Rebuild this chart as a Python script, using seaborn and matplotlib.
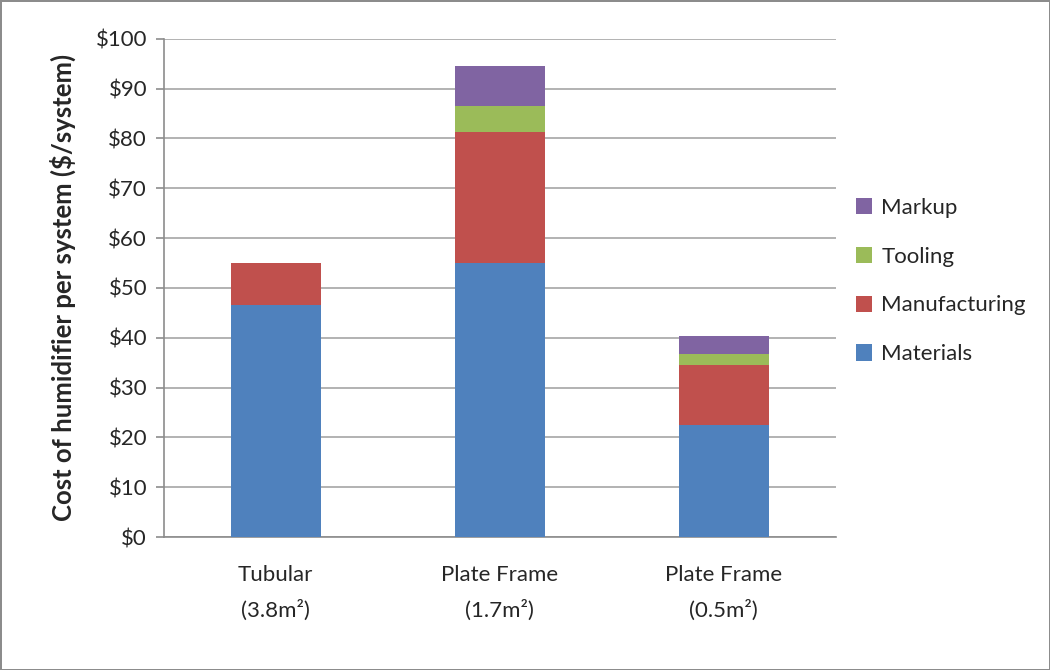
import numpy as np
import pandas as pd
import matplotlib
matplotlib.use("Agg")
import matplotlib.pyplot as plt
import seaborn as sns

# values ($ per system)
categories = ["Tubular\n(3.8m²)", "Plate Frame\n(1.7m²)", "Plate Frame\n(0.5m²)"]
materials = [46.6, 55.0, 22.5]
manufacturing = [8.4, 26.4, 12.0]
tooling = [0.0, 5.1, 2.3]
markup = [0.0, 8.1, 3.6]

series = ["Materials", "Manufacturing", "Tooling", "Markup"]
colors = ["#4F81BD", "#C0504D", "#9BBB59", "#8064A2"]

sns.set_style("white")
plt.rcParams["font.family"] = ["Lato", "DejaVu Sans"]

dtf = pd.DataFrame({"Category": categories, "Materials": materials,
                    "Manufacturing": manufacturing, "Tooling": tooling,
                    "Markup": markup})

fig = plt.figure(figsize=(10.5, 6.7), dpi=100)
fig.patch.set_edgecolor("#8C8C8C")
fig.patch.set_linewidth(2)
ax = fig.add_axes([0.156, 0.1985, 0.640, 0.7435])

# stacked bars, one layer at a time
bottom = np.zeros(len(categories))
for name, col in zip(series, colors):
    sns.barplot(data=dtf, x="Category", y=name, color=col, width=0.4,
                saturation=1, bottom=bottom, linewidth=0, label=name,
                ax=ax, zorder=3)
    bottom = bottom + dtf[name].values

ax.set_ylim(0, 100)
ax.set_xlim(-0.5, 2.5)
ax.set_yticks(range(0, 101, 10))
ax.set_yticklabels(["${}".format(v) for v in range(0, 101, 10)], fontsize=16)
ax.grid(axis="y", color="#A6A6A6", linewidth=1.2, zorder=0)
ax.set_axisbelow(True)

ax.set_xlabel("")
ax.set_ylabel("Cost of humidifier per system ($/system)", fontsize=18.5,
              fontweight="bold", labelpad=14)
ax.tick_params(axis="x", which="major", length=0, labelsize=16, pad=20)
ax.set_xticks([-0.5, 0.5, 1.5, 2.5], minor=True)
ax.tick_params(axis="x", which="minor", length=7, color="#8C8C8C", width=1.2)
ax.tick_params(axis="y", length=6, color="#8C8C8C", width=1.2, left=True, pad=6)
for lab in ax.get_xticklabels():
    lab.set_linespacing(1.9)

sns.despine(ax=ax, top=True, right=True)
for s in ["left", "bottom"]:
    ax.spines[s].set_color("#8C8C8C")
    ax.spines[s].set_linewidth(1.2)

handles, labels = ax.get_legend_handles_labels()
ax.legend(handles[::-1], labels[::-1], loc="center left",
          bbox_to_anchor=(1.0, 0.514), frameon=False, fontsize=16,
          handlelength=0.75, handleheight=0.75, handletextpad=0.4,
          labelspacing=1.3)

fig.savefig("out.png", dpi=100)
